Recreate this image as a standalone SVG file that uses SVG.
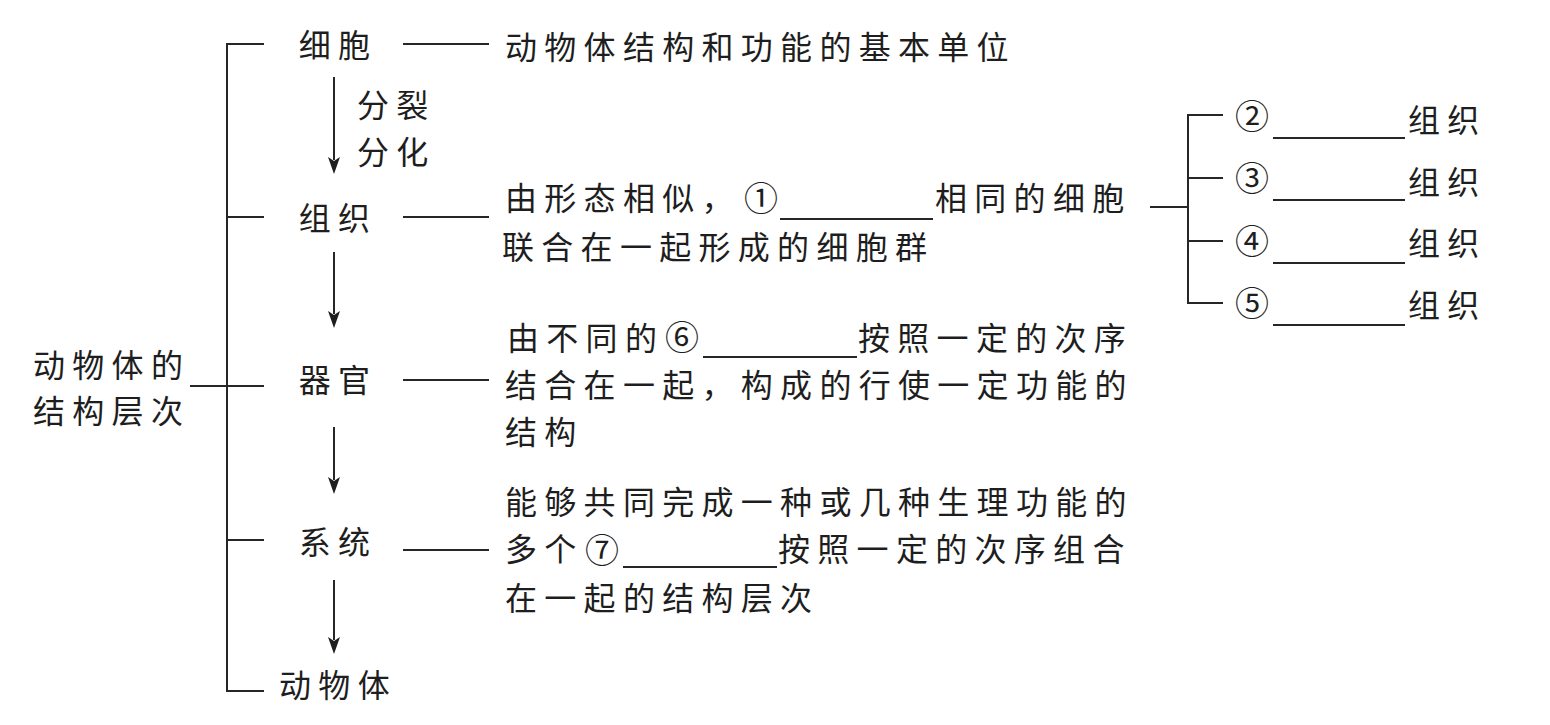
<svg xmlns="http://www.w3.org/2000/svg" width="1550" height="725" viewBox="0 0 1550 725">
<style>
  .t { font-family: "Noto Sans CJK SC", "Noto Sans", sans-serif; font-size: 32px; fill: #1e1e1e; letter-spacing: 7.3px; }
  .c { font-size: 34px; letter-spacing: 0; }
  .m { text-anchor: middle; }
  .ln { stroke: #262626; stroke-width: 2; fill: none; }
  .hd { fill: #1e1e1e; }
</style>
<defs>
  <path id="arrowhead" d="M-6,-17 L0,0 L6,-17 L0,-13 Z"/>
</defs>
<rect width="1550" height="725" fill="#ffffff"/>

<g id="connectors">
  <path class="ln" d="M264,44 H227 V691 H264"/>
  <line class="ln" x1="227" y1="217" x2="264" y2="217"/>
  <line class="ln" x1="190" y1="386" x2="264" y2="386"/>
  <line class="ln" x1="227" y1="540" x2="264" y2="540"/>
  <line class="ln" x1="403" y1="44" x2="489" y2="44"/>
  <line class="ln" x1="403" y1="217" x2="489" y2="217"/>
  <line class="ln" x1="403" y1="380" x2="489" y2="380"/>
  <line class="ln" x1="403" y1="550" x2="489" y2="550"/>
  <line class="ln" x1="334" y1="77" x2="334" y2="160"/>
  <use href="#arrowhead" class="hd" x="334" y="174"/>
  <line class="ln" x1="334" y1="252" x2="334" y2="314"/>
  <use href="#arrowhead" class="hd" x="334" y="328"/>
  <line class="ln" x1="334" y1="427" x2="334" y2="480"/>
  <use href="#arrowhead" class="hd" x="334" y="494"/>
  <line class="ln" x1="334" y1="580" x2="334" y2="640"/>
  <use href="#arrowhead" class="hd" x="334" y="654"/>
  <line class="ln" x1="1150" y1="207" x2="1188" y2="207"/>
  <path class="ln" d="M1223,115 H1188 V303 H1223"/>
  <line class="ln" x1="1188" y1="178" x2="1223" y2="178"/>
  <line class="ln" x1="1188" y1="241" x2="1223" y2="241"/>
  <line class="ln" x1="780" y1="219" x2="933" y2="219"/>
  <line class="ln" x1="703" y1="357" x2="857" y2="357"/>
  <line class="ln" x1="623" y1="567" x2="777" y2="567"/>
  <line class="ln" x1="1273" y1="138" x2="1405" y2="138"/>
  <line class="ln" x1="1273" y1="200" x2="1405" y2="200"/>
  <line class="ln" x1="1273" y1="263" x2="1405" y2="263"/>
  <line class="ln" x1="1273" y1="325" x2="1405" y2="325"/>
</g>

<g id="root">
  <text class="t"><tspan x="33" y="377">动物体的</tspan><tspan x="33" y="423">结构层次</tspan></text>
</g>

<g id="cell">
  <text class="t m" x="338" y="57">细胞</text>
  <text class="t" x="505" y="59">动物体结构和功能的基本单位</text>
</g>

<g id="division-label">
  <text class="t"><tspan x="357" y="117">分裂</tspan><tspan x="357" y="164">分化</tspan></text>
</g>

<g id="tissue">
  <text class="t m" x="338" y="230">组织</text>
  <text class="t"><tspan x="505" y="210">由形态相似，</tspan><tspan class="c" x="744" y="211">①</tspan><tspan x="935" y="210">相同的细胞</tspan><tspan x="502" y="259">联合在一起形成的细胞群</tspan></text>
</g>

<g id="tissue-types">
  <text class="t"><tspan class="c" x="1235" y="129">②</tspan><tspan x="1408" y="132">组织</tspan></text>
  <text class="t"><tspan class="c" x="1235" y="191">③</tspan><tspan x="1408" y="194">组织</tspan></text>
  <text class="t"><tspan class="c" x="1235" y="254">④</tspan><tspan x="1408" y="255">组织</tspan></text>
  <text class="t"><tspan class="c" x="1235" y="316">⑤</tspan><tspan x="1408" y="317">组织</tspan></text>
</g>

<g id="organ">
  <text class="t m" x="338" y="392">器官</text>
  <text class="t"><tspan x="507" y="350">由不同的</tspan><tspan class="c" x="665" y="350">⑥</tspan><tspan x="858" y="350">按照一定的次序</tspan><tspan x="505" y="397">结合在一起，构成的行使一定功能的</tspan><tspan x="505" y="444">结构</tspan></text>
</g>

<g id="system">
  <text class="t m" x="338" y="554">系统</text>
  <text class="t"><tspan x="505" y="514">能够共同完成一种或几种生理功能的</tspan><tspan x="505" y="561">多个</tspan><tspan class="c" x="585" y="563">⑦</tspan><tspan x="778" y="561">按照一定的次序组合</tspan><tspan x="505" y="610">在一起的结构层次</tspan></text>
</g>

<g id="animal">
  <text class="t m" x="338" y="697">动物体</text>
</g>
</svg>
